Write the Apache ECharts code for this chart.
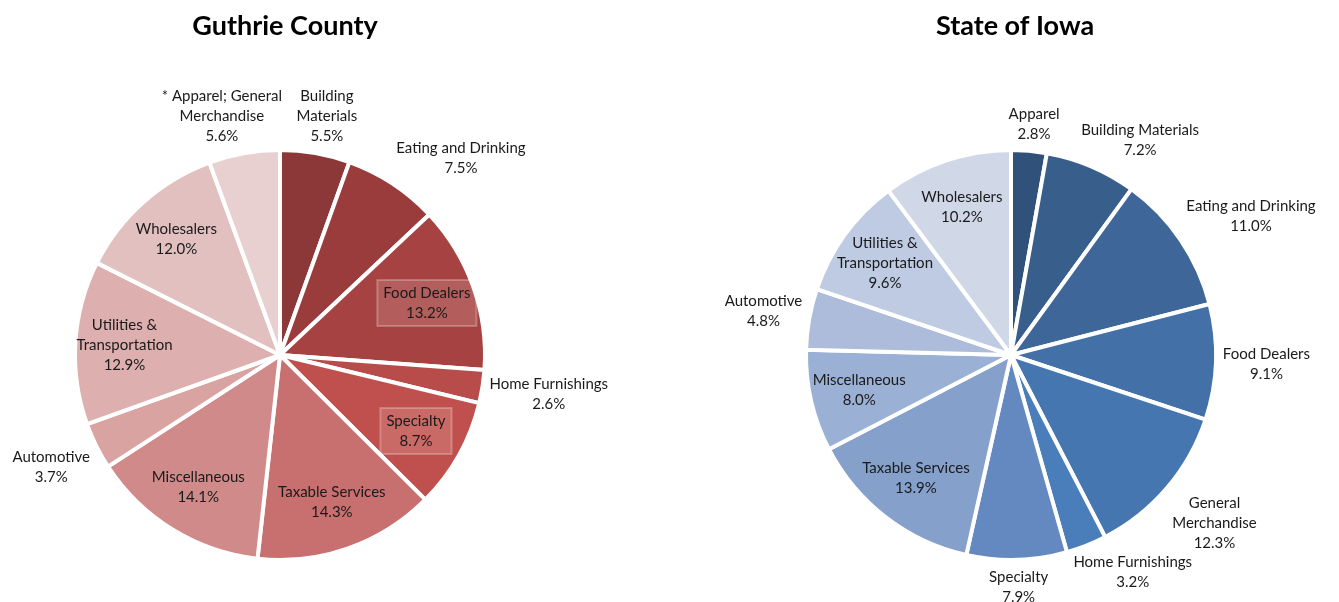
<!DOCTYPE html>
<html>
<head>
<meta charset="utf-8">
<script src="https://cdn.jsdelivr.net/npm/echarts@6/dist/echarts.min.js"></script>
<style>
  body { margin: 0; background: #fff; }
  #chart { width: 1339px; height: 602px; }
</style>
</head>
<body>
<div id="chart"></div>
<script>
// Guthrie County, clockwise from 12 o'clock
var countyNames = ["Building\nMaterials", "Eating and Drinking", "Food Dealers", "Home Furnishings",
  "Specialty", "Taxable Services", "Miscellaneous", "Automotive",
  "Utilities &\nTransportation", "Wholesalers", "* Apparel; General\nMerchandise"];
var countyValues = [5.5, 7.5, 13.2, 2.6, 8.7, 14.3, 14.1, 3.7, 12.9, 12.0, 5.6];

// State of Iowa, clockwise from 12 o'clock
var stateNames = ["Apparel", "Building Materials", "Eating and Drinking", "Food Dealers",
  "General\nMerchandise", "Home Furnishings", "Specialty", "Taxable Services",
  "Miscellaneous", "Automotive", "Utilities &\nTransportation", "Wholesalers"];
var stateValues = [2.8, 7.2, 11.0, 9.1, 12.3, 3.2, 7.9, 13.9, 8.0, 4.8, 9.6, 10.2];

var countyColors = ["#8C3838", "#9A3C3C", "#A64241", "#B74C4A", "#C0504D", "#C87070",
  "#D08A89", "#D9A3A2", "#DDAFAE", "#E2C0C0", "#E8D0D0"];
var stateColors = ["#30527A", "#385E8C", "#3E6698", "#4370A6", "#4676B0", "#4A7EBB",
  "#6389C0", "#84A0CB", "#9AB0D4", "#ACBCDA", "#BECBE2", "#D0D8E8"];

var countyInside = [2, 4, 5, 6, 8, 9];
var stateInside = [7, 8, 10, 11];
var countyBoxed = [2, 4];

var R = 205;
var countyCenter = [280, 355];
var stateCenter = [1011, 355];

function clamp(t) {
  return Math.max(-1, Math.min(1, t));
}

// place labels like the spreadsheet: inside ones along the mid angle, outside ones just off the rim
function makeLayout(values, center, inside) {
  var total = values.reduce(function (a, b) { return a + b; }, 0);
  return function (p) {
    var cum = 0;
    for (var i = 0; i < p.dataIndex; i++) cum += values[i];
    var th = (cum + values[p.dataIndex] / 2) / total * Math.PI * 2;
    var dx = Math.sin(th), dy = -Math.cos(th);
    var x, y;
    if (inside.indexOf(p.dataIndex) >= 0) {
      x = center[0] + dx * R * 0.76;
      y = center[1] + dy * R * 0.76;
    } else {
      var w = p.labelRect.width, h = p.labelRect.height;
      x = center[0] + dx * (R + 7) + (w / 2) * clamp(dx * 2);
      y = center[1] + dy * (R + 7) + (h / 2) * clamp(dy * 2);
    }
    return { x: x, y: y, align: "center", verticalAlign: "middle" };
  };
}

function buildData(names, values, colors, boxed) {
  var out = [];
  for (var i = 0; i < values.length; i++) {
    var item = { name: names[i], value: values[i], itemStyle: { color: colors[i] } };
    if (boxed && boxed.indexOf(i) >= 0) {
      item.label = {
        backgroundColor: "rgba(255,255,255,0.15)",
        borderColor: "rgba(255,255,255,0.25)",
        borderWidth: 1,
        padding: [4, 6, 2, 6],
      };
    }
    out.push(item);
  }
  return out;
}

var labelStyle = {
  show: true,
  position: "outside",
  fontFamily: "Lato",
  fontSize: 15,
  lineHeight: 20,
  color: "#1a1a1a",
  formatter: function (p) {
    return p.name + "\n" + p.value.toFixed(1) + "%";
  },
};

var titleStyle = { fontFamily: "Lato", fontSize: 27, fontWeight: "bold", color: "#000" };

var chart = echarts.init(document.getElementById("chart"));
var option = {
  animation: false,
  title: [
    { text: "Guthrie County", left: 280, top: 8, textAlign: "center", textStyle: titleStyle },
    { text: "State of Iowa", left: 1010, top: 8, textAlign: "center", textStyle: titleStyle },
  ],
  series: [
    {
      type: "pie",
      center: countyCenter,
      radius: R,
      startAngle: 90,
      clockwise: true,
      avoidLabelOverlap: false,
      silent: true,
      itemStyle: { borderColor: "#fff", borderWidth: 4 },
      label: labelStyle,
      labelLine: { show: false },
      labelLayout: makeLayout(countyValues, countyCenter, countyInside),
      data: buildData(countyNames, countyValues, countyColors, countyBoxed),
    },
    {
      type: "pie",
      center: stateCenter,
      radius: R,
      startAngle: 90,
      clockwise: true,
      avoidLabelOverlap: false,
      silent: true,
      itemStyle: { borderColor: "#fff", borderWidth: 4 },
      label: labelStyle,
      labelLine: { show: false },
      labelLayout: makeLayout(stateValues, stateCenter, stateInside),
      data: buildData(stateNames, stateValues, stateColors, null),
    },
  ],
};
chart.setOption(option);
</script>
</body>
</html>
